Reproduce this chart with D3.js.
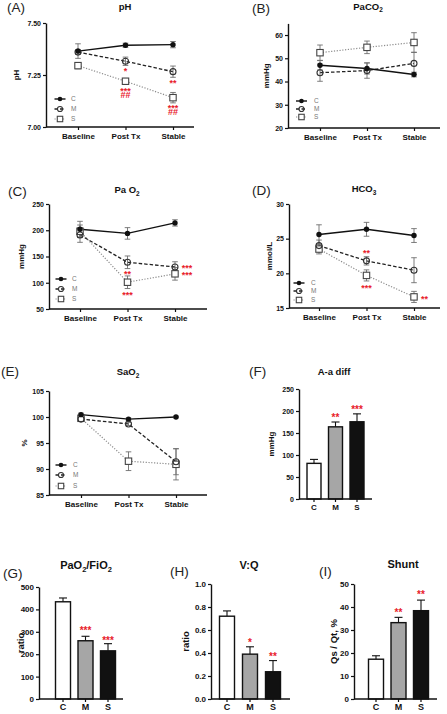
<!DOCTYPE html>
<html><head><meta charset="utf-8">
<script src="https://cdn.jsdelivr.net/npm/d3@7"></script>
<style>
body{margin:0;background:#fff}
svg{display:block}
text{font-family:Arial,"Liberation Sans",sans-serif}
</style>
</head><body>
<svg id="c" width="447" height="714"></svg>
<script>
// ---------- DATA ----------
const timepoints = ["Baseline", "Post Tx", "Stable"];
const groups = ["C", "M", "S"];

// (A) pH
const phC = [7.365, 7.393, 7.396], phCErr = [0.035, 0.010, 0.015];
const phM = [7.360, 7.316, 7.266], phMErr = [0.010, 0.020, 0.027];
const phS = [7.295, 7.220, 7.141], phSErr = [0.015, 0.012, 0.025];
const phTicks = [7.00, 7.25, 7.50];
// annotations: [timepoint, [[text, value], ...], dx]
const phStars = [["Post Tx", [["*", 7.279]], 0], ["Post Tx", [["***", 7.183], ["##", 7.154]], 0],
                 ["Stable", [["**", 7.221]], 0], ["Stable", [["***", 7.101], ["##", 7.072]], 0]];

// (B) PaCO2
const co2C = [47.0, 45.6, 43.0], co2CErr = [2.0, 2.4, 1.0];
const co2M = [43.8, 44.7, 47.8], co2MErr = [3.7, 3.3, 4.7];
const co2S = [52.4, 54.7, 56.8], co2SErr = [3.3, 2.7, 4.2];
const co2Ticks = [20, 30, 40, 50, 60];

// (C) PaO2
const o2C = [202, 194, 214], o2CErr = [15, 11, 6];
const o2M = [191, 139, 130], o2MErr = [14, 12, 10];
const o2S = [198, 101, 117], o2SErr = [12, 12, 12];
const o2Ticks = [50, 100, 150, 200, 250];
const o2Stars = [["Post Tx", [["**", 120.5]], 0], ["Post Tx", [["***", 80.5]], 0],
                 ["Stable", [["***", 132], ["***", 118.5]], 12]];

// (D) HCO3
const hcoC = [25.6, 26.35, 25.45], hcoCErr = [1.4, 1.0, 1.0];
const hcoM = [24.0, 21.8, 20.45], hcoMErr = [0.8, 0.6, 1.8];
const hcoS = [23.5, 19.7, 16.6], hcoSErr = [0.7, 0.8, 0.8];
const hcoTicks = [15, 20, 25, 30];
const hcoStars = [["Post Tx", [["**", 23.2]], 0], ["Post Tx", [["***", 18.2]], 0], ["Stable", [["**", 16.6]], 10.5]];

// (E) SaO2
const saC = [100.45, 99.6, 100.0], saCErr = [0.3, 0.2, 0.15];
const saM = [99.6, 98.66, 91.4], saMErr = [0.3, 0.3, 2.5];
const saS = [99.75, 91.5, 90.9], saSErr = [0.3, 1.8, 3.0];
const saTicks = [85, 90, 95, 100, 105];

// (F) A-a diff
const aaMean = [81, 164, 175.5], aaErr = [9, 11, 18];
const aaTicks = [0, 50, 100, 150, 200, 250];
const aaStars = [["M", "**", 191], ["S", "***", 209]];

// (G) PaO2/FiO2
const pfMean = [434, 260, 215], pfErr = [17, 20, 32];
const pfTicks = [0, 100, 200, 300, 400, 500];
const pfStars = [["M", "***", 317], ["S", "***", 272]];

// (H) V:Q
const vqMean = [0.72, 0.39, 0.237], vqErr = [0.046, 0.064, 0.097];
const vqTicks = [0.0, 0.2, 0.4, 0.6, 0.8, 1.0];
const vqStars = [["M", "*", 0.513], ["S", "**", 0.391]];

// (I) Shunt
const shMean = [17.3, 33.2, 38.4], shErr = [1.5, 2.3, 4.6];
const shTicks = [0, 10, 20, 30, 40, 50];
const shStars = [["M", "**", 38.7], ["S", "**", 46.5]];

// ---------- DRAWING ----------
const svg = d3.select("#c");
const RED = "#e8202a";
const lineStyle = {
  C: {stroke: "#111", dash: null, width: 1.4},
  M: {stroke: "#222", dash: "3.5,2", width: 1.3},
  S: {stroke: "#8c8c8c", dash: "1.2,1.6", width: 1.2}
};
const barFill = {C: "#ffffff", M: "#a6a6a6", S: "#111111"};

function panelLetter(x, y, s) {
  svg.append("text").attr("x", x).attr("y", y).attr("font-size", 13.5).attr("fill", "#222").text(s);
}
function title(x, y, parts, size) {
  const t = svg.append("text").attr("x", x).attr("y", y).attr("text-anchor", "middle")
    .attr("font-weight", "bold").attr("font-size", size).attr("fill", "#111");
  let sub = false;
  parts.forEach(p => {
    const isSub = p.startsWith("_");
    const ts = t.append("tspan").text(isSub ? p.slice(1) : p);
    if (isSub) { ts.attr("font-size", size * 0.68).attr("dy", size * 0.28); sub = true; }
    else if (sub) { ts.attr("dy", -size * 0.28); sub = false; }
  });
}
function yLabel(x, y, s, size) {
  svg.append("text").attr("transform", `translate(${x},${y}) rotate(-90)`)
    .attr("text-anchor", "middle").attr("font-weight", "bold").attr("font-size", size)
    .attr("fill", "#111").text(s);
}
function styleAxis(a, fs) {
  a.selectAll("text").attr("font-size", fs).attr("font-weight", "bold")
    .attr("fill", "#111").style("font-family", "Arial, 'Liberation Sans', sans-serif");
  a.selectAll("line").attr("stroke", "#111").attr("stroke-width", 1.2);
  a.selectAll(".domain").attr("stroke", "#111").attr("stroke-width", 1.4);
}
// one text element, one tspan per stacked line; value gives the visual centre of each line
function starStack(g, x, lines, y, fs) {
  const t = g.append("text").attr("text-anchor", "middle").attr("font-size", fs)
    .attr("font-weight", "bold").attr("fill", RED);
  lines.forEach(([txt, v]) => {
    const hash = txt.startsWith("#");
    t.append("tspan").attr("x", x).attr("y", y(v) + fs * (hash ? 0.36 : 0.58)).text(txt);
  });
}
function marker(g, grp, cx, cy, s) {
  s = s || 1;
  if (grp === "C") g.append("circle").attr("cx", cx).attr("cy", cy).attr("r", 2.7 * s).attr("fill", "#111");
  else if (grp === "M") g.append("circle").attr("cx", cx).attr("cy", cy).attr("r", 3 * s).attr("fill", "none")
    .attr("stroke", "#333").attr("stroke-width", 1.1);
  else g.append("rect").attr("x", cx - 3.2 * s).attr("y", cy - 3.2 * s).attr("width", 6.4 * s).attr("height", 6.4 * s)
    .attr("fill", "#fff").attr("stroke", "#444").attr("stroke-width", 1.1);
}

function linePanel(o) {
  const g = svg.append("g");
  const x = d3.scalePoint().domain(timepoints).range([o.cx0, o.cx1]);
  const y = d3.scaleLinear().domain(o.domain).range([o.yBot, o.yTop]);
  const ya = g.append("g").attr("transform", `translate(${o.x0},0)`)
    .call(d3.axisLeft(y).tickValues(o.ticks).tickSize(3).tickSizeOuter(0).tickPadding(2).tickFormat(o.fmt || d3.format("d")));
  styleAxis(ya, 7);
  const xa = g.append("g").attr("transform", `translate(0,${o.yBot})`)
    .call(d3.axisBottom(x).tickSize(3).tickSizeOuter(0).tickPadding(3));
  xa.select(".domain").remove();
  styleAxis(xa, 8);
  g.append("line").attr("x1", o.x0).attr("x2", o.x1).attr("y1", o.yBot).attr("y2", o.yBot)
    .attr("stroke", "#111").attr("stroke-width", 1.4);

  const series = [["S", o.S, o.SE], ["M", o.M, o.ME], ["C", o.C, o.CE]];
  const line = d3.line().x((d, i) => x(timepoints[i])).y(d => y(d));
  series.forEach(([grp, vals]) => {
    const st = lineStyle[grp];
    g.append("path").attr("d", line(vals)).attr("fill", "none").attr("stroke", st.stroke)
      .attr("stroke-width", st.width).attr("stroke-dasharray", st.dash);
  });
  series.forEach(([grp, vals, errs]) => {
    vals.forEach((v, i) => {
      const cx = x(timepoints[i]);
      const y1 = y(v - errs[i]), y2 = y(v + errs[i]);
      const eg = g.append("g").attr("stroke", "#6e6e6e").attr("stroke-width", 0.9);
      eg.append("line").attr("x1", cx).attr("x2", cx).attr("y1", y1).attr("y2", y2);
      eg.append("line").attr("x1", cx - 2.8).attr("x2", cx + 2.8).attr("y1", y1).attr("y2", y1);
      eg.append("line").attr("x1", cx - 2.8).attr("x2", cx + 2.8).attr("y1", y2).attr("y2", y2);
    });
  });
  series.forEach(([grp, vals]) => vals.forEach((v, i) => marker(g, grp, x(timepoints[i]), y(v))));

  // legend
  groups.forEach((grp, i) => {
    const ly = o.leg.y[i], lx = o.leg.x;
    const st = lineStyle[grp];
    g.append("line").attr("x1", lx - 5.5).attr("x2", lx + 5.5).attr("y1", ly).attr("y2", ly)
      .attr("stroke", st.stroke).attr("stroke-width", st.width).attr("stroke-dasharray", st.dash);
    marker(g, grp, lx, ly, 0.85);
    g.append("text").attr("x", o.leg.lx).attr("y", ly + 2.3).attr("font-size", 6.5).attr("fill", "#777").text(grp);
  });
  (o.stars || []).forEach(([tp, lines, dx]) => starStack(g, x(tp) + dx, lines, y, 9));
  yLabel(o.ylx, (o.yTop + o.yBot) / 2, o.ylabel, 8);
}

function barPanel(o) {
  const g = svg.append("g");
  const x = d3.scaleBand().domain(groups).range(o.band).paddingInner(o.pad).paddingOuter(0);
  const y = d3.scaleLinear().domain(o.domain).range([o.yBot, o.yTop]);
  const ya = g.append("g").attr("transform", `translate(${o.x0},0)`)
    .call(d3.axisLeft(y).tickValues(o.ticks).tickSize(3).tickSizeOuter(0).tickPadding(2).tickFormat(o.fmt || d3.format("d")));
  styleAxis(ya, o.tfs);
  const xa = g.append("g").attr("transform", `translate(0,${o.yBot})`)
    .call(d3.axisBottom(x).tickSize(3).tickSizeOuter(0).tickPadding(2));
  xa.select(".domain").remove();
  styleAxis(xa, o.xfs);
  groups.forEach((grp, i) => {
    const bx = x(grp), bw = x.bandwidth(), cx = bx + bw / 2;
    const top = y(o.mean[i]), et = y(o.mean[i] + o.err[i]);
    g.append("line").attr("x1", cx).attr("x2", cx).attr("y1", top).attr("y2", et)
      .attr("stroke", "#111").attr("stroke-width", 1.1);
    g.append("line").attr("x1", cx - 4).attr("x2", cx + 4).attr("y1", et).attr("y2", et)
      .attr("stroke", "#111").attr("stroke-width", 1.1);
    g.append("rect").attr("x", bx).attr("y", top).attr("width", bw).attr("height", o.yBot - top)
      .attr("fill", barFill[grp]).attr("stroke", "#111").attr("stroke-width", 1.4);
  });
  g.append("line").attr("x1", o.x0).attr("x2", o.x1).attr("y1", o.yBot).attr("y2", o.yBot)
    .attr("stroke", "#111").attr("stroke-width", 1.4);
  o.stars.forEach(([grp, txt, v]) => starStack(g, x(grp) + x.bandwidth() / 2, [[txt, v]], y, o.sfs));
  yLabel(o.ylx, (o.yTop + o.yBot) / 2, o.ylabel, o.yfs);
}

// ---- Panels ----
panelLetter(7, 11.5, "(A)"); title(125, 9.5, ["pH"], 9.5);
linePanel({x0: 46, x1: 194, cx0: 78, cx1: 173, yTop: 23, yBot: 127, domain: [7.0, 7.5], ticks: phTicks,
  fmt: d3.format(".2f"), C: phC, CE: phCErr, M: phM, ME: phMErr, S: phS, SE: phSErr,
  leg: {x: 60, lx: 71, y: [99, 109, 119]}, stars: phStars, ylabel: "pH", ylx: 18.5});

panelLetter(252, 13, "(B)"); title(368, 9.5, ["PaCO", "_2"], 9.5);
linePanel({x0: 288, x1: 440, cx0: 320, cx1: 414, yTop: 23.4, yBot: 128, domain: [20, 65], ticks: co2Ticks,
  C: co2C, CE: co2CErr, M: co2M, ME: co2MErr, S: co2S, SE: co2SErr,
  leg: {x: 301.5, lx: 314, y: [101, 109, 117]}, ylabel: "mmHg", ylx: 269});

panelLetter(8, 195.5, "(C)"); title(127, 193, ["Pa O", "_2"], 9.5);
linePanel({x0: 49, x1: 207, cx0: 80, cx1: 175, yTop: 204, yBot: 309, domain: [50, 250], ticks: o2Ticks,
  C: o2C, CE: o2CErr, M: o2M, ME: o2MErr, S: o2S, SE: o2SErr,
  leg: {x: 61, lx: 72, y: [279, 289, 299]}, stars: o2Stars, ylabel: "mmHg", ylx: 24});

panelLetter(252, 194.5, "(D)"); title(364, 192, ["HCO", "_3"], 9.5);
linePanel({x0: 289, x1: 440, cx0: 319, cx1: 414, yTop: 204, yBot: 308, domain: [15, 30], ticks: hcoTicks,
  C: hcoC, CE: hcoCErr, M: hcoM, ME: hcoMErr, S: hcoS, SE: hcoSErr,
  leg: {x: 299, lx: 311, y: [283, 291, 300]}, stars: hcoStars, ylabel: "mmol/L", ylx: 272});

panelLetter(1, 376, "(E)"); title(128, 375, ["SaO", "_2"], 9.5);
linePanel({x0: 49, x1: 207, cx0: 81, cx1: 176, yTop: 391, yBot: 495, domain: [85, 105], ticks: saTicks,
  C: saC, CE: saCErr, M: saM, ME: saMErr, S: saS, SE: saSErr,
  leg: {x: 61, lx: 73, y: [465, 475, 486]}, ylabel: "%", ylx: 27});

panelLetter(249, 376, "(F)"); title(334, 375, ["A-a diff"], 9.5);
barPanel({x0: 299, x1: 372, band: [307, 364], pad: 0.349, yTop: 389, yBot: 499, domain: [0, 250], ticks: aaTicks,
  mean: aaMean, err: aaErr, stars: aaStars, tfs: 7, xfs: 8, sfs: 10, ylabel: "mmHg", ylx: 274, yfs: 8});

panelLetter(3, 578, "(G)"); title(86, 569, ["PaO", "_2", "/FiO", "_2"], 11);
barPanel({x0: 39, x1: 123, band: [55.5, 115.5], pad: 0.333, yTop: 587, yBot: 699, domain: [0, 500], ticks: pfTicks,
  mean: pfMean, err: pfErr, stars: pfStars, tfs: 8, xfs: 9, sfs: 10, ylabel: "ratio", ylx: 24, yfs: 9.5});

panelLetter(170, 576, "(H)"); title(249, 569, ["V:Q"], 11);
barPanel({x0: 211, x1: 290, band: [219.5, 280.5], pad: 0.348, yTop: 584, yBot: 699, domain: [0, 1], ticks: vqTicks,
  fmt: d3.format(".1f"), mean: vqMean, err: vqErr, stars: vqStars, tfs: 8, xfs: 9, sfs: 10, ylabel: "ratio", ylx: 189, yfs: 9.5});

panelLetter(319, 576, "(I)"); title(403, 568, ["Shunt"], 11);
barPanel({x0: 354, x1: 437, band: [368.5, 428.5], pad: 0.333, yTop: 584, yBot: 699, domain: [0, 50], ticks: shTicks,
  mean: shMean, err: shErr, stars: shStars, tfs: 8, xfs: 9, sfs: 10, ylabel: "Qs / Qt, %", ylx: 337, yfs: 9.5});
</script>
</body></html>
